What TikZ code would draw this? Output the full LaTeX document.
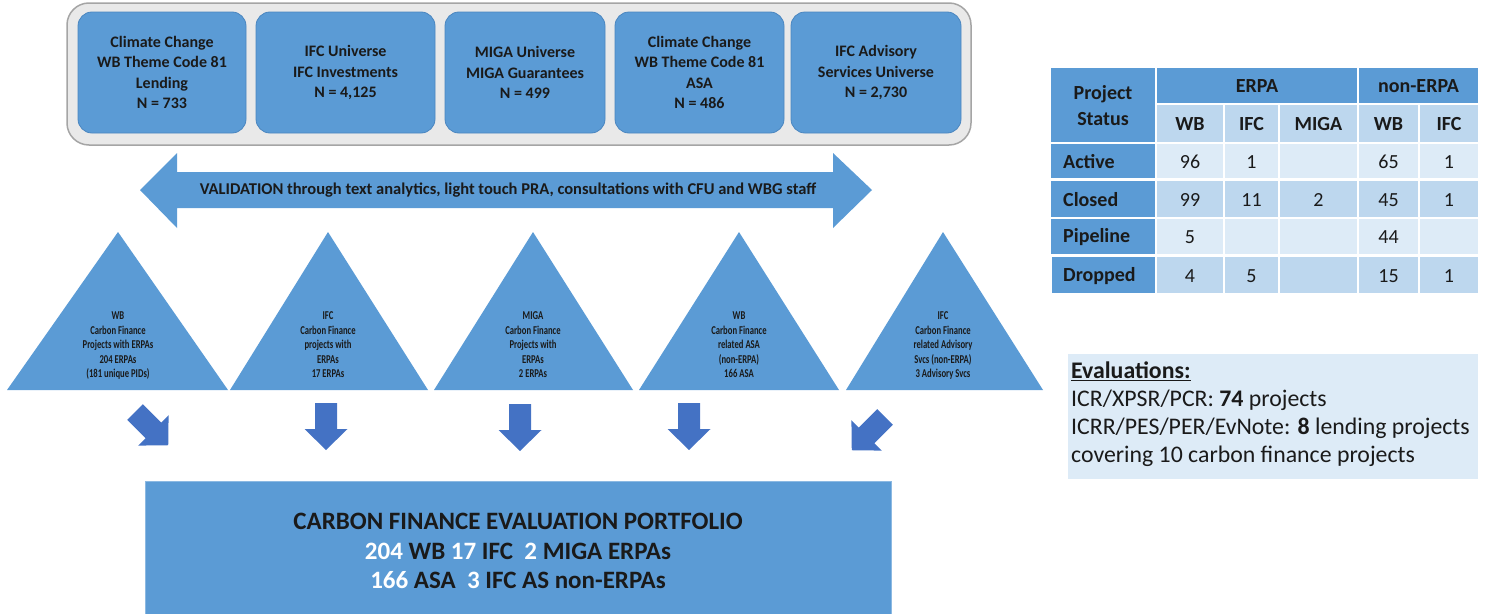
\documentclass[tikz,border=0pt]{standalone}
\usepackage{fontspec}
\usepackage{graphicx}
\setmainfont{Carlito}
\definecolor{boxblue}{HTML}{5B9BD5}
\definecolor{boxedge}{HTML}{4A86C0}
\definecolor{arrblue}{HTML}{4472C4}
\definecolor{grayfill}{HTML}{E9E9E9}
\definecolor{grayedge}{HTML}{A5A5A5}
\definecolor{ltone}{HTML}{DDEBF7}
\definecolor{lttwo}{HTML}{BDD7EE}
\definecolor{txt}{HTML}{1A1A1A}
\newcommand\tritxt[1]{\scalebox{0.72}[1]{\begin{tabular}{@{}c@{}}#1\end{tabular}}}
\begin{document}
\begin{tikzpicture}[x=1pt,y=-1pt,
  topbox/.style={fill=boxblue, draw=boxedge, line width=0.8pt, rounded corners=14pt,
    minimum height=121pt, align=center, text=txt, inner sep=0pt,
    font=\bfseries\fontsize{16}{20.5}\selectfont},
  tritext/.style={text=txt, inner sep=0pt, font=\bfseries\fontsize{12}{14.5}\selectfont},
  hdr/.style={text=txt, inner sep=0pt, font=\bfseries\fontsize{20}{26}\selectfont, align=center},
  num/.style={text=txt, inner sep=0pt, font=\fontsize{20}{24}\selectfont},
  barrow/.pic={\fill[arrblue] (-11,0) -- (11,0) -- (11,26) -- (21.5,26) -- (0,47) -- (-21.5,26) -- (-11,26) -- cycle;}
]
\useasboundingbox (0,0) rectangle (1488,613);

% top frame and universe boxes
\node[draw=grayedge, line width=1.5pt, fill=grayfill, rounded corners=22pt,
      minimum width=904pt, minimum height=142pt] (frame) at (519,74) {};
\node[topbox, minimum width=168pt] (b1) at (162,72.5) {Climate Change\\WB Theme Code 81\\Lending\\N = 733};
\node[topbox, minimum width=179pt] (b2) at (345.5,72.5) {IFC Universe\\IFC Investments\\N = 4,125};
\node[topbox, minimum width=160pt] (b3) at (525,72.5) {MIGA Universe\\MIGA Guarantees\\N = 499};
\node[topbox, minimum width=169pt] (b4) at (699.5,72.5) {Climate Change\\WB Theme Code 81\\ASA\\N = 486};
\node[topbox, minimum width=170pt] (b5) at (876,72.5) {IFC Advisory\\Services Universe\\N = 2,730};

% validation double arrow
\fill[boxblue] (140,190) -- (177,153) -- (177,172) -- (833,172) -- (833,153) -- (872,190)
  -- (833,228) -- (833,208) -- (177,208) -- (177,228) -- cycle;
\node[text=txt, inner sep=0pt, font=\bfseries\fontsize{16.5}{18}\selectfont] (val) at (508,190)
  {VALIDATION through text analytics, light touch PRA, consultations with CFU and WBG staff};

% triangles
\fill[boxblue] (7,390) -- (118,232) -- (228,390) -- cycle;
\fill[boxblue] (230,390) -- (328,232) -- (428,390) -- cycle;
\fill[boxblue] (434,390) -- (533,232) -- (633,390) -- cycle;
\fill[boxblue] (639,390) -- (739,232) -- (839,390) -- cycle;
\fill[boxblue] (846,390) -- (943,232) -- (1043,390) -- cycle;
\node[tritext] (t1) at (118,346) {\tritxt{WB\\Carbon Finance\\Projects with ERPAs\\204 ERPAs\\(181 unique PIDs)}};
\node[tritext] (t2) at (328,346) {\tritxt{IFC\\Carbon Finance\\projects with\\ERPAs\\17 ERPAs}};
\node[tritext] (t3) at (533,346) {\tritxt{MIGA\\Carbon Finance\\Projects with\\ERPAs\\2 ERPAs}};
\node[tritext] (t4) at (739,346) {\tritxt{WB\\Carbon Finance\\related ASA\\(non-ERPA)\\166 ASA}};
\node[tritext] (t5) at (943,346) {\tritxt{IFC\\Carbon Finance\\related Advisory\\Svcs (non-ERPA)\\3 Advisory Svcs}};

% block arrows
\pic[rotate=45] at (135,412) {barrow};
\pic at (326,403) {barrow};
\pic at (520,404) {barrow};
\pic at (689,403) {barrow};
\pic[rotate=-45] at (885,417) {barrow};

% portfolio box
\node[fill=boxblue, draw=boxblue!70!white, line width=1pt, minimum width=746pt, minimum height=140pt,
      align=center, text=txt, inner sep=0pt, font=\bfseries\fontsize{25}{29.5}\selectfont] (port) at (518,551)
  {CARBON FINANCE EVALUATION PORTFOLIO\\
   \textcolor{white}{204} WB \textcolor{white}{17} IFC\ \ \textcolor{white}{2} MIGA ERPAs\\
   \textcolor{white}{166} ASA\ \ \textcolor{white}{3} IFC AS non-ERPAs};

% table
\fill[boxblue] (1051,68) rectangle (1155,142);
\fill[boxblue] (1157,68) rectangle (1357,103);
\fill[boxblue] (1359,68) rectangle (1478,103);
\foreach \xa/\xb in {1157/1223,1225/1278,1280/1357,1359/1418,1420/1478}{
  \fill[lttwo] (\xa,105) rectangle (\xb,142);
  \fill[ltone] (\xa,144) rectangle (\xb,178);
  \fill[lttwo] (\xa,181) rectangle (\xb,217);
  \fill[ltone] (\xa,219) rectangle (\xb,254);
  \fill[lttwo] (\xa,257) rectangle (\xb,293);
}
\fill[boxblue] (1051,144) rectangle (1155,178);
\fill[boxblue] (1051,181) rectangle (1155,217);
\fill[boxblue] (1051,219) rectangle (1155,254);
\fill[boxblue] (1052,257) rectangle (1155,293);

\node[hdr] (hps) at (1103,106) {Project\\Status};
\node[hdr] (herpa) at (1257,86) {ERPA};
\node[hdr] (hnon) at (1418.5,86) {non-ERPA};
\node[hdr] (hwb1) at (1190,124) {WB};
\node[hdr] (hifc1) at (1251.5,124) {IFC};
\node[hdr] (hmiga) at (1318.5,124) {MIGA};
\node[hdr] (hwb2) at (1388.5,124) {WB};
\node[hdr] (hifc2) at (1449,124) {IFC};

\node[hdr, anchor=west] (ract) at (1063,162) {Active};
\node[hdr, anchor=west] (rclo) at (1063,200) {Closed};
\node[hdr, anchor=west] (rpip) at (1063,237) {Pipeline};
\node[hdr, anchor=west] (rdro) at (1063,276) {Dropped};

\node[num] (a1) at (1190,162) {96};
\node[num] (a2) at (1251.5,162) {1};
\node[num] (a4) at (1388.5,162) {65};
\node[num] (a5) at (1449,162) {1};
\node[num] (c1) at (1190,200) {99};
\node[num] (c2) at (1251.5,200) {11};
\node[num] (c3) at (1318.5,200) {2};
\node[num] (c4) at (1388.5,200) {45};
\node[num] (c5) at (1449,200) {1};
\node[num] (p1) at (1190,237) {5};
\node[num] (p4) at (1388.5,237) {44};
\node[num] (d1) at (1190,276) {4};
\node[num] (d2) at (1251.5,276) {5};
\node[num] (d4) at (1388.5,276) {15};
\node[num] (d5) at (1449,276) {1};

% evaluations box
\fill[ltone] (1068,354) rectangle (1478,479);
\node[anchor=west, align=left, text=txt, inner sep=0pt, font=\fontsize{23.8}{28}\selectfont] (eval) at (1071,414)
  {\underline{\textbf{Evaluations:}}\\
   ICR/XPSR/PCR: \textbf{74} projects\\
   ICRR/PES/PER/EvNote: \textbf{8} lending projects\\
   covering 10 carbon finance projects};
\end{tikzpicture}
\end{document}
